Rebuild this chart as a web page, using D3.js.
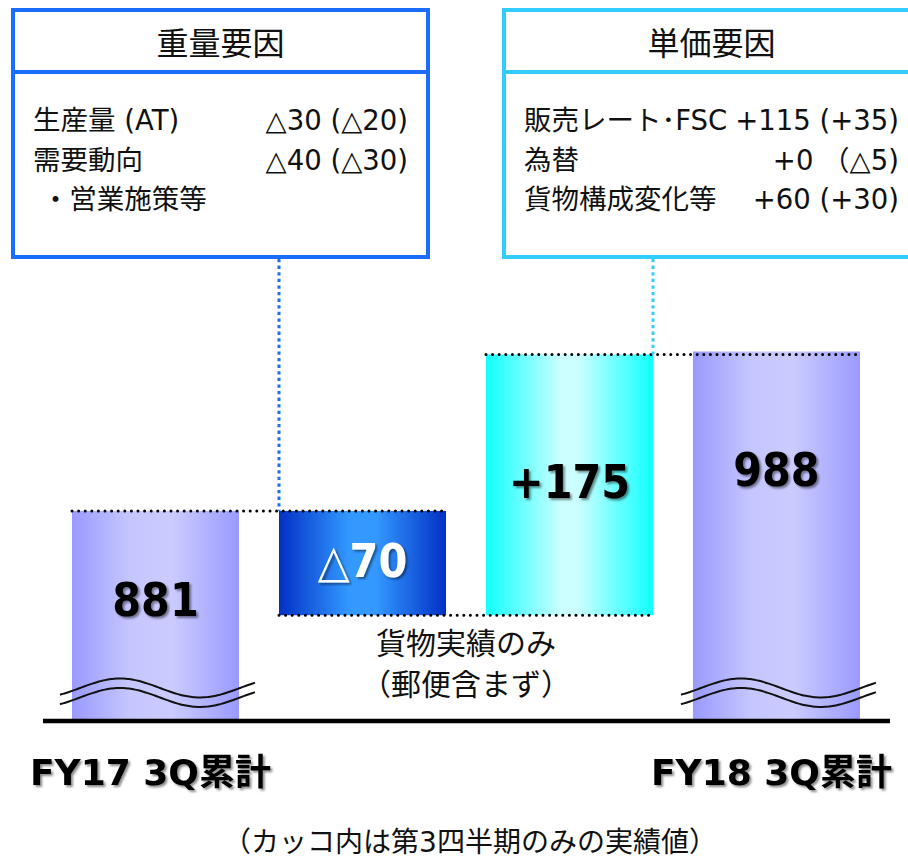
<!DOCTYPE html>
<html>
<head>
<meta charset="utf-8">
<script src="https://cdn.jsdelivr.net/npm/d3@7"></script>
<style>
	body { margin: 0; background: #fff; }
	text { font-family: "DejaVu Sans", "Noto Sans CJK JP", sans-serif; }
</style>
</head>
<body>
<div id="chart"></div>
<script>
// bars of the bridge
const categories = ["FY17 3Q累計", "重量要因", "単価要因", "FY18 3Q累計"];
const barKinds = ["total", "delta", "delta", "total"];
const barValues = [881, -70, 175, 988];
const barLabels = ["881", "△70", "+175", "988"];

// factor boxes
const weightHeader = "重量要因";
const weightItems = ["生産量 (AT)", "需要動向", " ・営業施策等"];
const weightValues = ["△30 (△20)", "△40 (△30)", ""];
const priceHeader = "単価要因";
const priceItems = ["販売レート･FSC", "為替", "貨物構成変化等"];
const priceValues = ["+115 (+35)", "+0 （△5)", "+60 (+30)"];

const noteLines = ["貨物実績のみ", "（郵便含まず）"];
const footnote = "（カッコ内は第3四半期のみの実績値）";

const width = 908;
const height = 859;

const svg = d3.select("#chart")
	.append("svg")
		.attr("width", width)
		.attr("height", height);

const defs = svg.append("defs");

function addGradient(id, stops){
	const g = defs.append("linearGradient")
		.attr("id", id)
		.attr("x1", 0).attr("x2", 1)
		.attr("y1", 0).attr("y2", 0);
	stops.forEach(([o, c]) => {
		g.append("stop").attr("offset", o).attr("stop-color", c);
	});
}
addGradient("grad-total", [[0, "#9a9aff"], [0.35, "#c6c6ff"], [0.6, "#cbcbff"], [1, "#9a9aff"]]);
addGradient("grad-down", [[0, "#0230c6"], [0.42, "#3399ff"], [0.58, "#3399ff"], [1, "#0230c6"]]);
addGradient("grad-up", [[0, "#11ffff"], [0.45, "#ccffff"], [0.55, "#ccffff"], [1, "#11ffff"]]);

defs.append("filter")
	.attr("id", "shadow")
	.attr("x", "-10%").attr("y", "-20%")
	.attr("width", "130%").attr("height", "150%")
	.append("feDropShadow")
		.attr("dx", 2)
		.attr("dy", 2)
		.attr("stdDeviation", 1.3)
		.attr("flood-color", "#000")
		.attr("flood-opacity", 0.45);

// running totals
let running = 0;
const bars = barValues.map((v, i) => {
	let start, end;
	if(barKinds[i] === "total"){
		start = null;
		end = v;
	}else{
		start = running;
		end = running + v;
	}
	running = end;
	return {name: categories[i], kind: barKinds[i], value: v, start, end, label: barLabels[i]};
});

const x = d3.scaleBand()
	.domain(categories)
	.range([72, 860])
	.paddingInner(0.193)
	.paddingOuter(0);

// broken axis: the bottom of the plot stands for 740
const y = d3.scaleLinear()
	.domain([740, 1000])
	.range([721, 721 - 260 * 1.49]);

const baseY = y(740);

function barTop(d){
	return d.kind === "total" ? y(d.end) : y(Math.max(d.start, d.end));
}
function barBottom(d){
	return d.kind === "total" ? baseY : y(Math.min(d.start, d.end));
}
function barFill(d){
	if(d.kind === "total") return "url(#grad-total)";
	return d.value < 0 ? "url(#grad-down)" : "url(#grad-up)";
}

// bars
svg.append("g")
	.selectAll("rect")
	.data(bars)
	.join("rect")
		.attr("x", d => x(d.name))
		.attr("y", d => barTop(d))
		.attr("width", x.bandwidth())
		.attr("height", d => barBottom(d) - barTop(d))
		.style("fill", d => barFill(d));

// black dotted connectors, at the running total between two bars
const connectors = bars.slice(0, -1).map((d, i) => {
	const next = bars[i + 1];
	return {x1: x(d.name), x2: x(next.name) + x.bandwidth(), y: y(d.end)};
});
svg.append("g")
	.selectAll("line")
	.data(connectors)
	.join("line")
		.attr("x1", d => d.x1)
		.attr("x2", d => d.x2)
		.attr("y1", d => d.y)
		.attr("y2", d => d.y)
		.style("stroke", "#000")
		.style("stroke-width", 3)
		.style("stroke-linecap", "round")
		.style("stroke-dasharray", "0 6.6");

// break marks on total bars
const wave = d3.line().curve(d3.curveBasis);
bars.filter(d => d.kind === "total").forEach(d => {
	const x0 = x(d.name) - 12;
	const x1 = x(d.name) + x.bandwidth() + 15;
	[0, 9.5].forEach(off => {
		const pts = d3.range(x0, x1 + 1, 3).map(px => [px, baseY - 33 + off - 9.5 * Math.cos(2 * Math.PI * (px - x0 - 60) / 160)]);
		svg.append("path")
			.attr("d", wave(pts))
			.style("fill", "none")
			.style("stroke", "#111")
			.style("stroke-width", 2);
	});
});

// base line
svg.append("line")
	.attr("x1", 43)
	.attr("x2", 890)
	.attr("y1", baseY)
	.attr("y2", baseY)
	.style("stroke", "#000")
	.style("stroke-width", 4.5);

// bar labels
const labelDy = [105, 66, 144, 135];
const barText = svg.append("g")
	.selectAll("text")
	.data(bars)
	.join("text")
		.attr("text-anchor", "middle")
		.attr("x", d => x(d.name) + x.bandwidth() / 2)
		.attr("y", (d, i) => barTop(d) + labelDy[i])
		.style("font-family", "'DejaVu Sans Condensed', 'DejaVu Sans', sans-serif")
		.style("font-stretch", "condensed")
		.style("font-size", "46px")
		.style("font-weight", "bold")
		.style("fill", d => d.value < 0 ? "#fff" : "#000")
		.attr("filter", "url(#shadow)");
barText.each(function(d){
	const t = d3.select(this);
	if(d.label.startsWith("△")){
		t.append("tspan").style("font-weight", "normal").style("font-family", "'DejaVu Sans', sans-serif").text("△");
		t.append("tspan").text(d.label.slice(1));
	}else{
		t.text(d.label);
	}
});

// category labels under the totals
svg.append("g")
	.selectAll("text")
	.data(bars.filter(d => d.kind === "total"))
	.join("text")
		.attr("text-anchor", "middle")
		.attr("x", d => x(d.name) + x.bandwidth() / 2 - 5)
		.attr("y", 785)
		.style("font-size", "36px")
		.style("font-weight", "bold")
		.style("fill", "#000")
		.attr("filter", "url(#shadow)")
		.text(d => d.name);

// note between the delta bars
const noteX = (x(categories[1]) + x(categories[2]) + x.bandwidth()) / 2;
svg.append("g")
	.selectAll("text")
	.data(noteLines)
	.join("text")
		.attr("text-anchor", "middle")
		.attr("x", noteX)
		.attr("y", (d, i) => 654 + i * 41)
		.style("font-size", "30px")
		.style("fill", "#111")
		.text(d => d);

// footnote
svg.append("text")
	.attr("text-anchor", "middle")
	.attr("x", 470)
	.attr("y", 852)
	.style("font-size", "28px")
	.style("fill", "#111")
	.text(footnote);

// factor boxes
function drawBox({bx, color, header, items, values, linkX, linkY}){
	const bw = 415, bh = 247, by = 10;
	const g = svg.append("g");

	// link from box to bar
	g.append("line")
		.attr("x1", linkX)
		.attr("x2", linkX)
		.attr("y1", by + bh + 2)
		.attr("y2", linkY)
		.style("stroke", color)
		.style("stroke-width", 3)
		.style("stroke-dasharray", "3.3 3.3");

	g.append("rect")
		.attr("x", bx)
		.attr("y", by)
		.attr("width", bw)
		.attr("height", bh)
		.style("fill", "#fff")
		.style("stroke", color)
		.style("stroke-width", 4);
	g.append("line")
		.attr("x1", bx)
		.attr("x2", bx + bw)
		.attr("y1", 72)
		.attr("y2", 72)
		.style("stroke", color)
		.style("stroke-width", 4);

	g.append("text")
		.attr("text-anchor", "middle")
		.attr("x", bx + bw / 2)
		.attr("y", 55)
		.style("font-size", "32px")
		.style("fill", "#111")
		.text(header);

	g.selectAll(".item")
		.data(items)
		.join("text")
			.attr("class", "item")
			.attr("x", bx + 20)
			.attr("y", (d, i) => 130 + i * 39.5)
			.style("font-size", "27.5px")
			.style("fill", "#111")
			.style("white-space", "pre")
			.text(d => d);

	g.selectAll(".val")
		.data(values)
		.join("text")
			.attr("class", "val")
			.attr("text-anchor", "end")
			.attr("x", bx + bw - 20)
			.attr("y", (d, i) => 130 + i * 39.5)
			.style("font-size", "27.5px")
			.style("fill", "#111")
			.style("white-space", "pre")
			.text(d => d);
}

drawBox({
	bx: 13,
	color: "#1a6dff",
	header: weightHeader,
	items: weightItems,
	values: weightValues,
	linkX: x(categories[1]),
	linkY: barTop(bars[1])
});
drawBox({
	bx: 504,
	color: "#33ccff",
	header: priceHeader,
	items: priceItems,
	values: priceValues,
	linkX: x(categories[2]) + x.bandwidth(),
	linkY: barTop(bars[2])
});
</script>
</body>
</html>
